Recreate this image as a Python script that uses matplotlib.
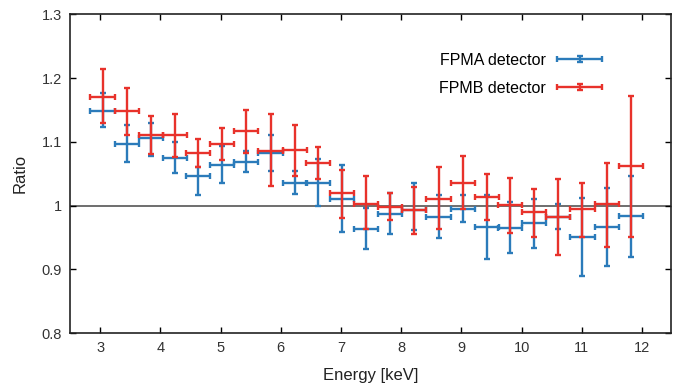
import numpy as np
import matplotlib.pyplot as plt
from matplotlib.legend_handler import HandlerErrorbar
from matplotlib.container import ErrorbarContainer

plt.rcParams['font.family'] = ['Liberation Sans', 'DejaVu Sans']

# bin centres [keV] and half widths
energy = [3.04, 3.44, 3.84, 4.24, 4.63, 5.03, 5.43, 5.83, 6.23, 6.62, 7.02, 7.42,
          7.82, 8.22, 8.62, 9.02, 9.42, 9.81, 10.21, 10.61, 11.01, 11.41, 11.81]
half_width = 0.2

# FPMA ratio with lower / upper error bounds
fpma = [1.149, 1.097, 1.106, 1.075, 1.047, 1.063, 1.068, 1.083, 1.035, 1.035, 1.010, 0.964,
        0.987, 0.993, 0.982, 0.995, 0.966, 0.965, 0.972, 0.982, 0.951, 0.967, 0.983]
fpma_lo = [1.124, 1.068, 1.078, 1.051, 1.016, 1.035, 1.052, 1.054, 1.018, 0.999, 0.958, 0.932,
           0.955, 0.962, 0.949, 0.974, 0.917, 0.925, 0.934, 0.963, 0.889, 0.905, 0.919]
fpma_hi = [1.176, 1.127, 1.129, 1.100, 1.060, 1.093, 1.086, 1.110, 1.054, 1.073, 1.063, 0.996,
           1.020, 1.036, 1.017, 1.017, 1.017, 1.005, 1.010, 1.003, 1.012, 1.028, 1.047]

# FPMB ratio with lower / upper error bounds
fpmb = [1.171, 1.149, 1.111, 1.110, 1.083, 1.096, 1.117, 1.086, 1.087, 1.067, 1.019, 1.003,
        0.998, 0.993, 1.011, 1.035, 1.013, 1.001, 0.990, 0.982, 0.994, 1.002, 1.062]
fpmb_lo = [1.129, 1.111, 1.081, 1.076, 1.061, 1.071, 1.083, 1.031, 1.047, 1.042, 0.980, 0.963,
           0.977, 0.956, 0.963, 0.994, 0.977, 0.957, 0.951, 0.923, 0.951, 0.935, 0.950]
fpmb_hi = [1.214, 1.185, 1.141, 1.144, 1.105, 1.121, 1.150, 1.144, 1.127, 1.092, 1.056, 1.047,
           1.019, 1.029, 1.060, 1.078, 1.049, 1.044, 1.026, 1.041, 1.035, 1.067, 1.172]

blue = '#2b7bba'
red = '#e8322b'

fig = plt.figure(figsize=(6.73, 3.86), dpi=100)
ax = fig.add_axes([0.104, 0.137, 0.893, 0.826])

ax.axhline(1.0, color='#555555', lw=1.2, zorder=1)

e = np.array(energy)
for y, lo, hi, c, lab in [(fpma, fpma_lo, fpma_hi, blue, 'FPMA detector'),
                          (fpmb, fpmb_lo, fpmb_hi, red, 'FPMB detector')]:
    y = np.array(y)
    yerr = [y - np.array(lo), np.array(hi) - y]
    ax.errorbar(e, y, xerr=half_width, yerr=yerr, fmt='none', ecolor=c,
                elinewidth=1.7, capsize=2.5, capthick=1.7, label=lab, zorder=2)

ax.set_xlim(2.5, 12.48)
ax.set_ylim(0.8, 1.3)
ax.set_xticks(range(3, 13))
ax.set_yticks([0.8, 0.9, 1.0, 1.1, 1.2, 1.3])
ax.set_yticklabels(['0.8', '0.9', '1', '1.1', '1.2', '1.3'])
ax.tick_params(direction='in', top=True, right=True, length=4, width=1,
               labelsize=10.5, labelcolor='#333333', pad=6)
for s in ax.spines.values():
    s.set_linewidth(1.2)
    s.set_color('#222222')

ax.set_xlabel('Energy [keV]', fontsize=12, color='#222222', labelpad=9)
ax.set_ylabel('Ratio', fontsize=12, color='#222222', labelpad=10)

ax.legend(loc='upper right', bbox_to_anchor=(0.909, 0.924), frameon=False,
          markerfirst=False, handlelength=2.8, labelspacing=0.8, fontsize=11.5,
          handletextpad=0.7,
          handler_map={ErrorbarContainer: HandlerErrorbar(xerr_size=1.4, yerr_size=0.18)})

fig.savefig('out.png', dpi=100)
